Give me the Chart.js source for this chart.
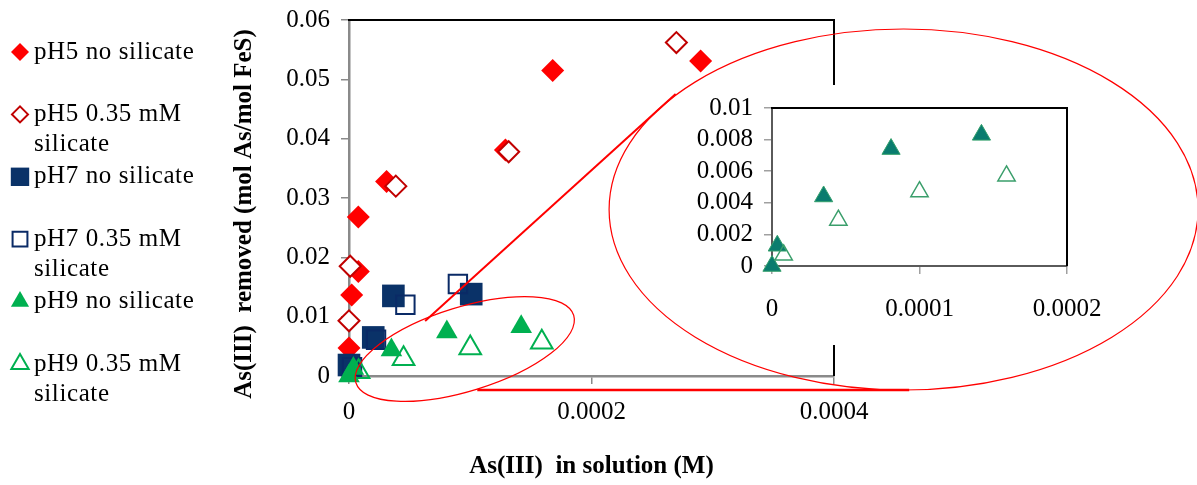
<!DOCTYPE html>
<html>
<head>
<meta charset="utf-8">
<script src="https://cdn.jsdelivr.net/npm/chart.js@4.4.1/dist/chart.umd.min.js"></script>
<style>
  html, body { margin: 0; padding: 0; background: #fff; }
  #wrap { position: relative; width: 1197px; height: 485px; overflow: hidden; }
  #main { position: absolute; left: 0; top: 0; }
  #inset { position: absolute; left: 690px; top: 85px; background: #fff; }
  #overlay { position: absolute; left: 0; top: 0; pointer-events: none; }
</style>
</head>
<body>
<div id="wrap">
  <canvas id="main" width="1197" height="485" style="width:1197px;height:485px"></canvas>
  <canvas id="inset" width="470" height="260" style="width:470px;height:260px"></canvas>
  <canvas id="overlay" width="1197" height="485"></canvas>
</div>
<script>
// Series names (legend order)
const seriesNames = ['pH5 no silicate', 'pH5 0.35 mM silicate', 'pH7 no silicate',
                     'pH7 0.35 mM silicate', 'pH9 no silicate', 'pH9 0.35 mM silicate'];

// As(III) in solution (M) / As(III) removed (mol As/mol FeS)
const pH5NoSiX = [0, 0.0000022, 0.0000077, 0.0000077, 0.000031, 0.000129, 0.000168, 0.00029];
const pH5NoSiY = [0.0047, 0.01365, 0.0176, 0.0268, 0.0328, 0.0381, 0.0515, 0.0531];
const pH5SiX = [0, 0.000001, 0.0000386, 0.0001317, 0.00027];
const pH5SiY = [0.0093, 0.0185, 0.032, 0.0378, 0.0562];
const pH7NoSiX = [0, 0.00002, 0.0000366, 0.0001008];
const pH7NoSiY = [0.00185, 0.0065, 0.0135, 0.0138];
const pH7SiX = [0.0000025, 0.0000223, 0.0000465, 0.0000898];
const pH7SiY = [0.0015, 0.0061, 0.012, 0.0155];
const pH9NoSiX = [0, 0.0000036, 0.000035, 0.0000807, 0.000142];
const pH9NoSiY = [0, 0.00128, 0.0044, 0.0074, 0.0083];
const pH9SiX = [0.0000079, 0.000045, 0.0001, 0.000159];
const pH9SiY = [0.0007, 0.0029, 0.0047, 0.0057];

// Tick values and labels
const xTicks = [0, 0.0002, 0.0004];
const xTickLabels = ['0', '0.0002', '0.0004'];
const yTicks = [0, 0.01, 0.02, 0.03, 0.04, 0.05, 0.06];
const yTickLabels = ['0', '0.01', '0.02', '0.03', '0.04', '0.05', '0.06'];
const insetXTicks = [0, 0.0001, 0.0002];
const insetXTickLabels = ['0', '0.0001', '0.0002'];
const insetYTicks = [0, 0.002, 0.004, 0.006, 0.008, 0.01];
const insetYTickLabels = ['0', '0.002', '0.004', '0.006', '0.008', '0.01'];

const pts = (xs, ys) => xs.map((x, i) => ({ x: x, y: ys[i] }));
const allData = [pts(pH5NoSiX, pH5NoSiY), pts(pH5SiX, pH5SiY), pts(pH7NoSiX, pH7NoSiY),
                 pts(pH7SiX, pH7SiY), pts(pH9NoSiX, pH9NoSiY), pts(pH9SiX, pH9SiY)];

// marker looks
const mainStyles = [
  { shape: 'rectRot', r: 11.5, fill: '#ff0000', stroke: '#ff0000', lw: 0 },
  { shape: 'rectRot', r: 10.5, fill: '#ffffff', stroke: '#c00000', lw: 2 },
  { shape: 'rect', r: 16, fill: '#0a3268', stroke: '#0a3268', lw: 0 },
  { shape: 'rect', r: 13, fill: 'rgba(0,0,0,0)', stroke: '#0a2a66', lw: 2 },
  { shape: 'triangle', r: 12.5, fill: '#00b050', stroke: '#00b050', lw: 0 },
  { shape: 'triangle', r: 12.5, fill: 'rgba(0,0,0,0)', stroke: '#00b050', lw: 2 }
];
const legendStyles = [
  { shape: 'rectRot', r: 9, fill: '#ff0000', stroke: '#ff0000', lw: 0 },
  { shape: 'rectRot', r: 8, fill: '#ffffff', stroke: '#c00000', lw: 2 },
  { shape: 'rect', r: 13, fill: '#0a3268', stroke: '#0a3268', lw: 0 },
  { shape: 'rect', r: 10.5, fill: '#ffffff', stroke: '#0a2a66', lw: 2 },
  { shape: 'triangle', r: 10.5, fill: '#00b050', stroke: '#00b050', lw: 0 },
  { shape: 'triangle', r: 10, fill: '#ffffff', stroke: '#00b050', lw: 2 }
];
const insetStyles = [
  { shape: 'triangle', r: 10.5, fill: '#0a7c6e', stroke: '#34a06c', lw: 1 },
  { shape: 'triangle', r: 10, fill: 'rgba(0,0,0,0)', stroke: '#3a9e6b', lw: 1.5 }
];

const serif = 'Liberation Serif';
const tickFont = { family: serif, size: 25 };

function makeDataset(data, st, i, n) {
  return {
    label: seriesNames[i], data: data,
    pointStyle: st.shape, pointRadius: st.r, pointHoverRadius: st.r,
    backgroundColor: st.fill, borderColor: st.stroke, borderWidth: st.lw,
    showLine: false, clip: false, order: n - i
  };
}

function fixedTicks(values) {
  return s => { s.ticks = values.map(v => ({ value: v })); };
}

// keep the plot box where we put it (no extra room for edge labels)
function fixSize(prop, size) {
  return s => {
    s[prop] = size;
    s.paddingTop = 0; s.paddingBottom = 0; s.paddingLeft = 0; s.paddingRight = 0;
  };
}

// top + right frame in black
const frame = {
  id: 'frame',
  beforeDatasetsDraw(chart) {
    const a = chart.chartArea, ctx = chart.ctx;
    ctx.save();
    ctx.strokeStyle = '#000';
    ctx.lineWidth = 2;
    ctx.beginPath();
    ctx.moveTo(a.left - 1, a.top);
    ctx.lineTo(a.right, a.top);
    ctx.lineTo(a.right, a.bottom);
    ctx.stroke();
    ctx.restore();
  }
};

function drawMarker(ctx, st, x, y) {
  const r = st.r;
  ctx.beginPath();
  if (st.shape === 'rectRot') {
    ctx.moveTo(x - r, y); ctx.lineTo(x, y - r); ctx.lineTo(x + r, y); ctx.lineTo(x, y + r);
  } else if (st.shape === 'rect') {
    const h = r * Math.SQRT1_2;
    ctx.rect(x - h, y - h, 2 * h, 2 * h);
  } else {
    ctx.moveTo(x, y - r);
    ctx.lineTo(x + r * Math.sin(2 * Math.PI / 3), y + r / 2);
    ctx.lineTo(x - r * Math.sin(2 * Math.PI / 3), y + r / 2);
  }
  ctx.closePath();
  ctx.fillStyle = st.fill;
  ctx.fill();
  if (st.lw) { ctx.lineWidth = st.lw; ctx.strokeStyle = st.stroke; ctx.stroke(); }
}

// legend on the left and the rotated y title
const sideText = {
  id: 'sideText',
  afterDraw(chart) {
    const ctx = chart.ctx;
    ctx.save();
    ctx.font = '25px "' + serif + '"';
    ctx.textBaseline = 'middle';
    if ('letterSpacing' in ctx) ctx.letterSpacing = '0.6px';
    seriesNames.forEach((name, i) => {
      const y0 = 52 + i * 62.4;
      drawMarker(ctx, legendStyles[i], 20, y0);
      ctx.fillStyle = '#000';
      const words = name.split(' ');
      let line = '', lines = [];
      words.forEach(w => {
        const t = line ? line + ' ' + w : w;
        if (ctx.measureText(t).width > 180 && line) { lines.push(line); line = w; } else line = t;
      });
      lines.push(line);
      lines.forEach((l, k) => ctx.fillText(l, 34, y0 + k * 30.5));
    });
    if ('letterSpacing' in ctx) ctx.letterSpacing = '0px';
    ctx.font = 'bold 25px "' + serif + '"';
    ctx.translate(245, 214);
    ctx.rotate(-Math.PI / 2);
    ctx.textAlign = 'center';
    ctx.fillText('As(III)  removed (mol As/mol FeS)', 0, 0);
    ctx.restore();
  }
};

const mainChart = new Chart(document.getElementById('main'), {
  type: 'scatter',
  data: { datasets: allData.map((d, i) => makeDataset(d, mainStyles[i], i, allData.length)) },
  options: {
    responsive: false, animation: false, events: [],
    layout: { padding: { left: 220, top: 20, right: 363, bottom: 0 } },
    plugins: { legend: { display: false }, tooltip: { enabled: false } },
    scales: {
      x: {
        type: 'linear', min: 0, max: 0.0004,
        afterFit: fixSize('height', 109),
        afterBuildTicks: fixedTicks(xTicks),
        ticks: { callback: v => xTickLabels[xTicks.indexOf(v)], font: tickFont, color: '#000', padding: 13, maxRotation: 0, autoSkip: false },
        grid: { drawOnChartArea: false, color: '#8a8a8a', tickLength: 8, lineWidth: 1.5 },
        border: { color: '#8a8a8a', width: 2.5 },
        title: { display: true, text: 'As(III)  in solution (M)', color: '#000',
                 font: { family: serif, size: 25, weight: 'bold' }, padding: { top: 0, bottom: 3 } }
      },
      y: {
        type: 'linear', min: 0, max: 0.06,
        afterFit: fixSize('width', 129),
        afterBuildTicks: fixedTicks(yTicks),
        ticks: { callback: v => yTickLabels[yTicks.indexOf(v)], font: tickFont, color: '#000', padding: 11, autoSkip: false },
        grid: { drawOnChartArea: false, color: '#8a8a8a', tickLength: 8, lineWidth: 1.5 },
        border: { color: '#8a8a8a', width: 2.5 }
      }
    }
  },
  plugins: [frame, sideText]
});

const insetData = [allData[4], allData[5]];
const insetChart = new Chart(document.getElementById('inset'), {
  type: 'scatter',
  data: { datasets: insetData.map((d, i) => makeDataset(d, insetStyles[i], i + 4, 6)) },
  options: {
    responsive: false, animation: false, events: [],
    layout: { padding: { left: 0, top: 23, right: 93, bottom: 0 } },
    plugins: { legend: { display: false }, tooltip: { enabled: false } },
    scales: {
      x: {
        type: 'linear', min: 0, max: 0.0002,
        afterFit: fixSize('height', 79),
        afterBuildTicks: fixedTicks(insetXTicks),
        ticks: { callback: v => insetXTickLabels[insetXTicks.indexOf(v)], font: tickFont, color: '#000', padding: 20, maxRotation: 0, autoSkip: false },
        grid: { drawOnChartArea: false, color: '#a0a0a0', tickLength: 8, lineWidth: 1.5 },
        border: { color: '#5a5a5a', width: 2 }
      },
      y: {
        type: 'linear', min: 0, max: 0.01,
        afterFit: fixSize('width', 82),
        afterBuildTicks: fixedTicks(insetYTicks),
        ticks: { callback: v => insetYTickLabels[insetYTicks.indexOf(v)], font: tickFont, color: '#000', padding: 11, autoSkip: false },
        grid: { drawOnChartArea: false, color: '#a0a0a0', tickLength: 8, lineWidth: 1.5 },
        border: { color: '#5a5a5a', width: 2 }
      }
    }
  },
  plugins: [frame]
});

// zoom annotations, placed in main-chart data units (radii in px)
const smallEllipse = { x: 0.0000955, y: 0.00455, rx: 114, ry: 42, angle: -17.2 };
const bigEllipse = { x: 0.0004574, y: 0.02806, rx: 294.5, ry: 180.5, angle: 0 };
const zoomLine = [[0.0000628, 0.00927], [0.0002694, 0.04753]];
const baseLine = [[0.0001058, -0.00236], [0.000462, -0.00236]];

(function drawOverlay() {
  const ctx = document.getElementById('overlay').getContext('2d');
  const sx = mainChart.scales.x, sy = mainChart.scales.y;
  const px = p => [sx.getPixelForValue(p[0]), sy.getPixelForValue(p[1])];
  ctx.strokeStyle = '#ff0000';
  [smallEllipse, bigEllipse].forEach(e => {
    ctx.beginPath();
    ctx.lineWidth = 1.2;
    ctx.ellipse(sx.getPixelForValue(e.x), sy.getPixelForValue(e.y), e.rx, e.ry, e.angle * Math.PI / 180, 0, 2 * Math.PI);
    ctx.stroke();
  });
  [[zoomLine, 2], [baseLine, 2.5]].forEach(([l, w]) => {
    const a = px(l[0]), b = px(l[1]);
    ctx.beginPath();
    ctx.lineWidth = w;
    ctx.moveTo(a[0], a[1]);
    ctx.lineTo(b[0], b[1]);
    ctx.stroke();
  });
})();
</script>
</body>
</html>
